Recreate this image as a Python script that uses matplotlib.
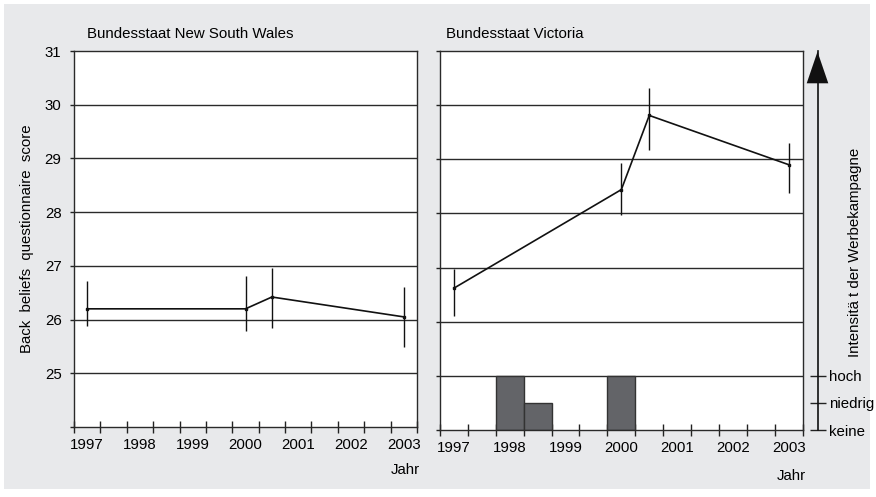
import numpy as np
import matplotlib
matplotlib.use('Agg')
import matplotlib.pyplot as plt
from matplotlib.patches import Polygon, Rectangle

# survey waves (years as fractional values)
years = [1997, 2000, 2000.5, 2003]
year_labels = ['1997', '1998', '1999', '2000', '2001', '2002', '2003']

# New South Wales
nsw_mean = [26.2, 26.2, 26.42, 26.05]
nsw_low = [25.88, 25.79, 25.85, 25.49]
nsw_high = [26.72, 26.81, 26.96, 26.61]

# Victoria
vic_mean = [26.62, 28.44, 29.81, 28.9]
vic_low = [26.1, 27.98, 29.18, 28.38]
vic_high = [26.98, 28.94, 30.31, 29.3]

# campaign intensity in Victoria (0 keine, 1 niedrig, 2 hoch)
camp_years = [1998, 1998.5, 2000]
camp_level = [2, 1, 2]
level_names = ['keine', 'niedrig', 'hoch']

FS = 10.8
W, H = 876, 497
fig = plt.figure(figsize=(W / 100, H / 100), dpi=100)
fig.patch.set_facecolor('white')
plt.rcParams['font.family'] = ['Liberation Sans', 'DejaVu Sans']

# grey background panel
fig.patches.append(Rectangle((4 / W, 1 - 489 / H), 866 / W, 485 / H,
                             transform=fig.transFigure, facecolor='#e8e9eb',
                             edgecolor='none', zorder=-10))


def px_axes(x0, y0, x1, y1):
    return fig.add_axes([x0 / W, 1 - y1 / H, (x1 - x0) / W, (y1 - y0) / H])


def style(ax, show_labels):
    ax.set_facecolor('white')
    ax.set_xlim(1996.75, 2003.25)
    ax.set_ylim(24, 31)
    ax.set_xticks(range(1997, 2004))
    ax.set_xticklabels(year_labels, fontsize=FS)
    ax.set_xticks(np.arange(1996.75, 2003.3, 0.5), minor=True)
    ax.tick_params(axis='x', which='major', length=0, pad=8)
    ax.tick_params(axis='x', which='minor', length=8, direction='inout',
                   width=1, color='#222222')
    ax.set_yticks(range(24, 32))
    if show_labels:
        ax.set_yticklabels([''] + [str(v) for v in range(25, 32)], fontsize=FS)
    else:
        ax.set_yticklabels([])
    ax.tick_params(axis='y', length=3, width=1, color='#222222', pad=6)
    for y in range(25, 31):
        ax.axhline(y, color='#2a2a2a', lw=1, zorder=1)
    for s in ax.spines.values():
        s.set_color('#2a2a2a')
        s.set_linewidth(1)


def series(ax, mean, low, high):
    mean = np.array(mean)
    yerr = [mean - np.array(low), np.array(high) - mean]
    ax.errorbar(years, mean, yerr=yerr, color='#111111', lw=1.2,
                elinewidth=1, capsize=0, marker='s', markersize=2, zorder=3)


ax1 = px_axes(74, 51, 417, 427)
style(ax1, True)
series(ax1, nsw_mean, nsw_low, nsw_high)
ax1.set_ylabel('Back  beliefs  questionnaire  score', fontsize=FS, labelpad=8)
fig.text(87 / W, 1 - 34 / H, 'Bundesstaat New South Wales', fontsize=FS,
         va='center', ha='left')
fig.text(405 / W, 1 - 470 / H, 'Jahr', fontsize=FS, va='center', ha='center')

ax2 = px_axes(440, 51, 802.7, 430)
style(ax2, False)
ax2.bar(camp_years, [lv * 0.5 for lv in camp_level], bottom=24, width=0.5,
        color='#636468', edgecolor='#333333', lw=1, zorder=2)
series(ax2, vic_mean, vic_low, vic_high)
fig.text(446 / W, 1 - 34 / H, 'Bundesstaat Victoria', fontsize=FS,
         va='center', ha='left')
fig.text(791 / W, 1 - 476 / H, 'Jahr', fontsize=FS, va='center', ha='center')

# intensity axis with arrow
axi = px_axes(817.3, 51, 818.3, 430)
axi.set_ylim(24, 31)
axi.set_xticks([])
axi.patch.set_visible(False)
for k in ['top', 'bottom', 'left']:
    axi.spines[k].set_visible(False)
axi.spines['right'].set_color('#111111')
axi.spines['right'].set_linewidth(1.2)
axi.yaxis.tick_right()
axi.set_yticks([24 + 0.5 * i for i in range(len(level_names))])
axi.set_yticklabels(level_names, fontsize=FS)
axi.tick_params(axis='y', direction='inout', length=11, width=1,
                color='#222222', pad=2)
tri = [(806.7, 83.3), (828.3, 83.3), (817.5, 51.7)]
fig.patches.append(Polygon([(x / W, 1 - y / H) for x, y in tri],
                           closed=True, transform=fig.transFigure,
                           facecolor='#111111', edgecolor='none'))
fig.text(855 / W, 1 - 252 / H, 'Intensitä t der Werbekampagne', fontsize=FS,
         rotation=90, va='center', ha='center')

fig.savefig('out.png', dpi=100, facecolor=fig.get_facecolor())
